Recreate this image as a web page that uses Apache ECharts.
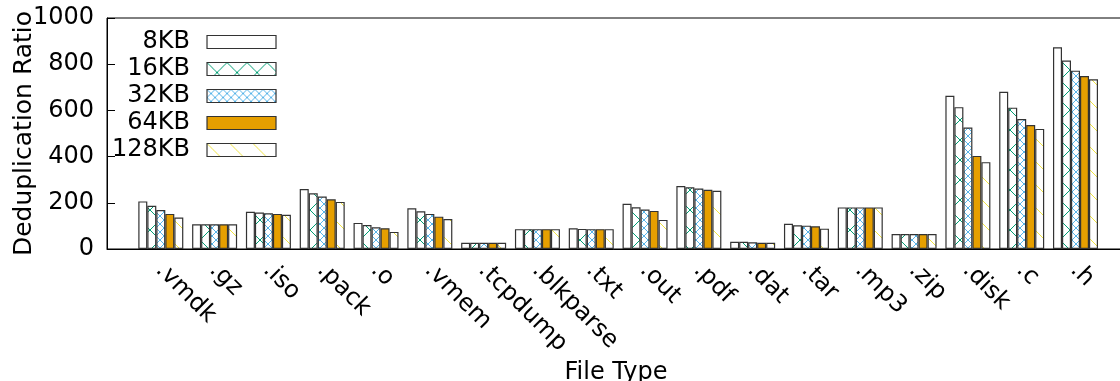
<!DOCTYPE html>
<html>
<head>
<meta charset="utf-8">
<script src="https://cdn.jsdelivr.net/npm/echarts@6/dist/echarts.min.js"></script>
<style>
html,body{margin:0;padding:0;background:#fff;}
#c{width:1120px;height:381px;}
</style>
</head>
<body>
<div id="c"></div>
<script>
var categories = ['.vmdk','.gz','.iso','.pack','.o','.vmem','.tcpdump','.blkparse','.txt','.out','.pdf','.dat','.tar','.mp3','.zip','.disk','.c','.h'];
var seriesNames = ['8KB','16KB','32KB','64KB','128KB'];
var kb8   = [206, 107, 161, 260, 113, 176, 27, 86, 90, 196, 273, 31, 109, 180, 65, 663, 681, 873];
var kb16  = [187, 107, 158, 241, 104, 163, 27, 86, 87, 181, 267, 31, 103, 180, 65, 614, 612, 816];
var kb32  = [169, 107, 155, 227,  94, 152, 27, 86, 86, 171, 262, 29, 101, 180, 65, 526, 563, 772];
var kb64  = [152, 107, 152, 215,  90, 140, 27, 86, 86, 165, 256, 27,  98, 180, 65, 403, 537, 749];
var kb128 = [136, 107, 148, 204,  74, 130, 27, 86, 86, 126, 252, 27,  88, 180, 65, 376, 520, 735];
var yTicks = [0, 200, 400, 600, 800, 1000];

function makePattern(size, color, lines, width) {
  var cv = document.createElement('canvas');
  cv.width = size; cv.height = size;
  var ctx = cv.getContext('2d');
  ctx.fillStyle = '#fff';
  ctx.fillRect(0, 0, size, size);
  ctx.strokeStyle = color;
  ctx.lineWidth = width;
  ctx.beginPath();
  if (lines.indexOf('\\') >= 0) { ctx.moveTo(-1, -1); ctx.lineTo(size + 1, size + 1); }
  if (lines.indexOf('/') >= 0) { ctx.moveTo(size + 1, -1); ctx.lineTo(-1, size + 1); }
  ctx.stroke();
  return { image: cv, repeat: 'repeat' };
}

var fills = [
  '#ffffff',
  makePattern(20, '#009e73', '\\/', 1),
  makePattern(8, '#56b4e9', '\\/', 1),
  '#e69f00',
  makePattern(23, '#f0e442', '\\', 1)
];
var values = [kb8, kb16, kb32, kb64, kb128];
var FONT = 'DejaVu Sans';

var chart = echarts.init(document.getElementById('c'), null, {renderer: 'canvas'});
var series = seriesNames.map(function (name, k) {
  return {
    name: name,
    type: 'bar',
    barWidth: 9,
    barGap: '0%',
    itemStyle: { color: fills[k], borderColor: '#333', borderWidth: 1.2 },
    data: values[k].map(function (v, i) { return [i, v]; })
  };
});

chart.setOption({
  animation: false,
  backgroundColor: '#fff',
  textStyle: { fontFamily: FONT },
  grid: { left: 107, right: -5, top: 18, bottom: 132, show: true, borderColor: '#000', borderWidth: 1, containLabel: false, outerBoundsMode: 'none' },
  legend: {
    data: seriesNames,
    orient: 'vertical',
    align: 'right',
    left: 112,
    top: 30,
    padding: 0,
    itemWidth: 69,
    itemHeight: 13,
    itemGap: 3,
    icon: 'rect',
    itemStyle: { borderColor: '#333', borderWidth: 1.2 },
    textStyle: { fontFamily: FONT, fontSize: 24, color: '#000', padding: [0, 12, 0, 0] }
  },
  xAxis: {
    type: 'value',
    min: -1,
    max: 17.92,
    interval: 1,
    name: 'File Type',
    nameLocation: 'middle',
    nameGap: 112,
    nameMoveOverlap: false,
    nameTextStyle: { fontFamily: FONT, fontSize: 24, color: '#000' },
    axisLine: { show: true, onZero: false, lineStyle: { color: '#000', width: 1 } },
    axisTick: { show: false },
    splitLine: { show: false },
    axisLabel: {
      rotate: -45,
      margin: 2,
      padding: [0, 0, 0, 10],
      verticalAlign: 'top',
      fontFamily: FONT,
      fontSize: 24,
      color: '#000',
      showMinLabel: true,
      showMaxLabel: true,
      formatter: function (v) {
        return (Number.isInteger(v) && v >= 0 && v < categories.length) ? categories[v] : '';
      }
    }
  },
  yAxis: {
    type: 'value',
    min: yTicks[0],
    max: yTicks[yTicks.length - 1],
    interval: 200,
    name: 'Deduplication Ratio',
    nameLocation: 'middle',
    nameGap: 70,
    nameMoveOverlap: false,
    nameTextStyle: { fontFamily: FONT, fontSize: 25, color: '#000' },
    axisLine: { show: true, onZero: false, lineStyle: { color: '#000', width: 1 } },
    axisTick: { show: true, inside: true, length: 8, lineStyle: { color: '#000' } },
    splitLine: { show: false },
    axisLabel: { margin: 13, fontFamily: FONT, fontSize: 24, color: '#000', formatter: function (v) { return String(v); } }
  },
  series: series
});
</script>
</body>
</html>
